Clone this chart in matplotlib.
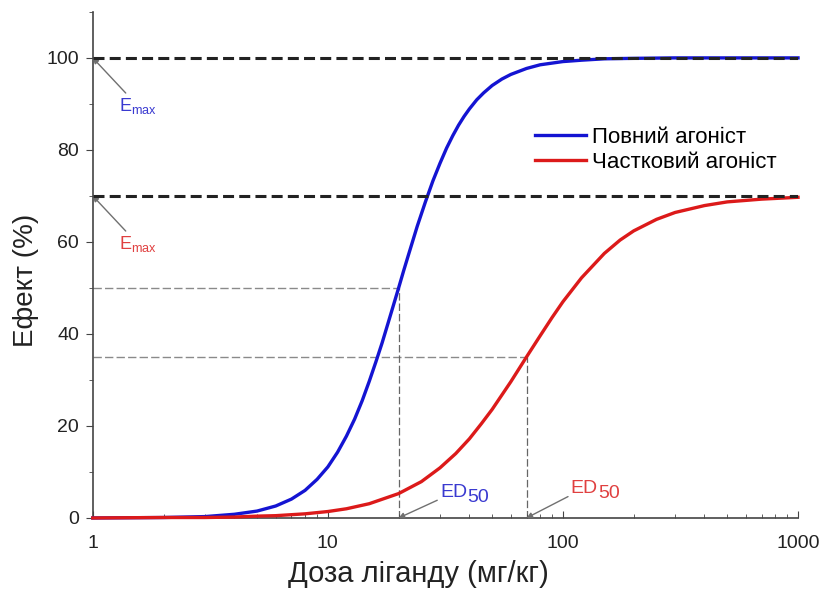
import matplotlib
matplotlib.use('Agg')
import numpy as np
import matplotlib.pyplot as plt
from matplotlib.ticker import LogLocator, FixedLocator

plt.rcParams['font.family'] = ['Liberation Sans', 'DejaVu Sans']
plt.rcParams['mathtext.fontset'] = 'custom'
plt.rcParams['mathtext.rm'] = 'Liberation Sans'

# values
dose_full = [1, 2, 3, 4, 5, 6, 7, 8, 9, 10, 11, 12, 13, 14, 15, 16, 17, 18, 19, 20,
             21, 22, 24, 26, 28, 30, 32, 34, 36, 38, 40, 43, 46, 50, 55, 60, 70, 80, 100,
             120, 150, 200, 300, 500, 1000]
effect_full = [0.0, 0.1, 0.3, 0.8, 1.5, 2.6, 4.1, 6.0, 8.4, 11.1, 14.3, 17.8, 21.5, 25.5, 29.7,
               33.9, 38.0, 42.2, 46.2, 50.0, 53.7, 57.1, 63.4, 68.7, 73.3, 77.1, 80.4, 83.1,
               85.4, 87.3, 88.9, 90.9, 92.4, 94.0, 95.4, 96.4, 97.7, 98.5, 99.2, 99.5, 99.8,
               99.9, 100.0, 100.0, 100.0]

dose_part = [1, 2, 3, 4, 5, 6, 8, 10, 12, 15, 20, 25, 30, 35, 40, 45, 50, 60, 70, 80, 90,
             100, 120, 150, 175, 200, 250, 300, 400, 500, 700, 1000]
effect_part = [0.0, 0.1, 0.1, 0.2, 0.4, 0.5, 0.9, 1.4, 2.0, 3.1, 5.3, 7.9, 10.9, 14.0, 17.2,
               20.5, 23.6, 29.6, 35.0, 39.6, 43.6, 47.0, 52.2, 57.5, 60.4, 62.4, 64.9, 66.4,
               67.9, 68.7, 69.3, 69.7]

emax_full, emax_part = 100, 70
ed50_full, ed50_part = 20, 70

fig = plt.figure(figsize=(8.21, 5.94), dpi=100)
ax = fig.add_axes([0.113, 0.128, 0.859, 0.852])

ax.plot(dose_full, effect_full, color='#1414d2', lw=2.4, label='Повний агоніст', zorder=3, clip_on=False)
ax.plot(dose_part, effect_part, color='#dc1a1a', lw=2.4, label='Частковий агоніст', zorder=3, clip_on=False)

ax.hlines([emax_full, emax_part], 1, 1000, colors='#222222', linestyles=(0, (3.6, 1.7)), lw=2.2, zorder=4)
ax.hlines([emax_full / 2, emax_part / 2], 1, [ed50_full, ed50_part], colors='#8a8a8a',
          linestyles=(0, (6, 2.3)), lw=1.0, zorder=1)
ax.vlines([ed50_full, ed50_part], 0, [emax_full / 2, emax_part / 2], colors='#666666',
          linestyles=(0, (6, 2.3)), lw=0.9, zorder=1)

ax.set_xscale('log')
ax.set_xlim(1, 1000)
ax.set_ylim(0, 110)
ax.set_xticks([1, 10, 100, 1000])
ax.set_xticklabels(['1', '10', '100', '1000'])
ax.xaxis.set_minor_locator(LogLocator(base=10, subs=np.arange(2, 10)))
ax.xaxis.set_minor_formatter(plt.NullFormatter())
ax.set_yticks([0, 20, 40, 60, 80, 100])
ax.yaxis.set_minor_locator(FixedLocator([10, 30, 50, 70, 90, 110]))

for s in ['top', 'right']:
    ax.spines[s].set_visible(False)
for s in ['left', 'bottom']:
    ax.spines[s].set_color('#444444')
    ax.spines[s].set_linewidth(1.2)

ax.tick_params(axis='x', which='both', direction='in', colors='#444444', labelcolor='#222222',
               labelsize=14, pad=12)
ax.tick_params(axis='x', which='major', length=5)
ax.tick_params(axis='x', which='minor', length=3)
ax.tick_params(axis='y', which='both', direction='out', colors='#444444', labelcolor='#222222',
               labelsize=14, pad=5)
ax.tick_params(axis='y', which='major', length=5)
ax.tick_params(axis='y', which='minor', length=3)

ax.set_xlabel('Доза ліганду (мг/кг)', fontsize=21, color='#222222')
ax.set_ylabel('Ефект (%)', fontsize=20, color='#222222')
ax.xaxis.set_label_coords(0.462, -0.083)
ax.yaxis.set_label_coords(-0.076, 0.47)

arrow = dict(arrowstyle='-|>', color='#707070', lw=1.0, mutation_scale=8, shrinkA=0, shrinkB=0)
blue_txt, red_txt = '#3a3ad0', '#e04040'
ax.annotate(r'$\mathregular{E_{max}}$', xy=(1, emax_full), xytext=(1.29, 88.5), color=blue_txt,
            fontsize=13, arrowprops=arrow, annotation_clip=False)
ax.annotate(r'$\mathregular{E_{max}}$', xy=(1, emax_part), xytext=(1.29, 58.5), color=red_txt,
            fontsize=13, arrowprops=arrow, annotation_clip=False)

for ed, pos, col in [(ed50_full, (30, 4.5), blue_txt), (ed50_part, (108, 5.5), red_txt)]:
    ax.annotate('ED', xy=(ed, 0), xytext=pos, color=col, fontsize=14,
                arrowprops=arrow, annotation_clip=False)
    ax.annotate('50', xy=pos, xytext=(19.5, -3.5), textcoords='offset points',
                color=col, fontsize=14, annotation_clip=False)

ax.legend(loc='upper left', bbox_to_anchor=(0.627, 0.772), frameon=False, fontsize=16,
          handlelength=2.3, handletextpad=0.25, labelspacing=0.15, borderaxespad=0, borderpad=0)

fig.savefig('out.png', dpi=100)
